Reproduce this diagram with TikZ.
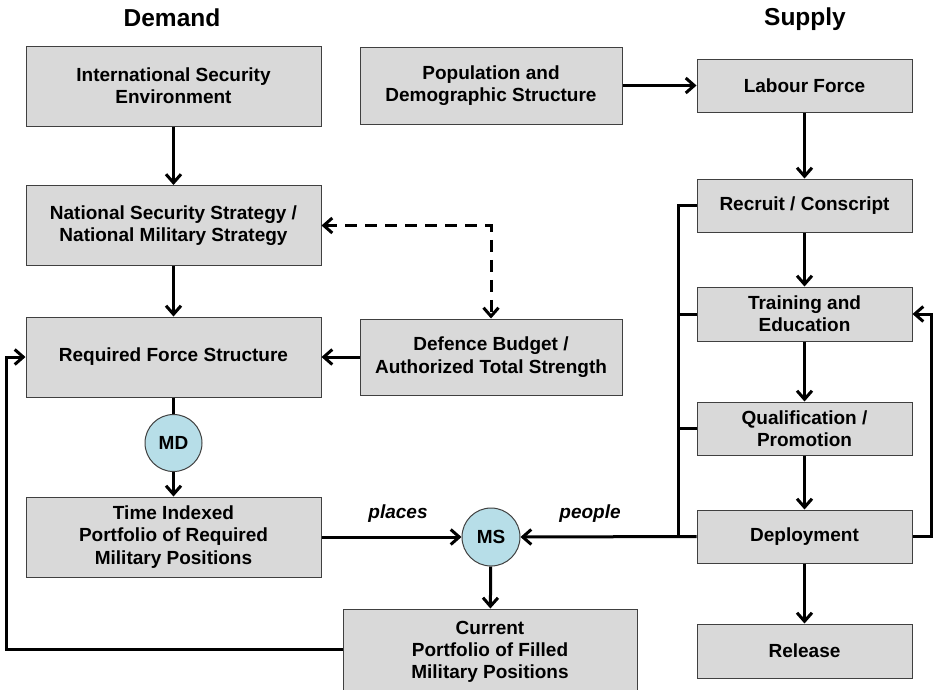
\documentclass[tikz,border=0pt]{standalone}
\usepackage{fontspec}
\setmainfont{Liberation Sans}
\usetikzlibrary{arrows.meta,calc}
\definecolor{boxfill}{HTML}{D9D9D9}
\definecolor{circfill}{HTML}{B7DEE8}
\definecolor{boxline}{HTML}{404040}
\begin{document}
\begin{tikzpicture}[x=1pt,y=-1pt,
  every node/.style={font=\fontsize{19pt}{22.3pt}\selectfont\bfseries},
  box/.style={draw=boxline,line width=1pt,fill=boxfill,align=center,inner sep=0pt,
    minimum width=#1,anchor=center},
  box/.default=215pt,
  circ/.style={circle,draw=boxline,line width=1pt,fill=circfill,minimum size=57pt,inner sep=0pt},
  conn/.style={line width=3pt,-{Straight Barb[length=8.5pt,width=15pt]}},
  plain/.style={line width=3pt},
  dashconn/.style={line width=3pt,dash pattern=on 12pt off 8pt,
    {Straight Barb[length=8.5pt,width=15pt]}-{Straight Barb[length=8.5pt,width=15pt]}},
  title/.style={font=\fontsize{24.5pt}{28pt}\selectfont\bfseries},
  lbl/.style={font=\fontsize{19pt}{22.3pt}\selectfont\bfseries\itshape}
]
\useasboundingbox (0,0) rectangle (933,689);
\clip (0,0) rectangle (933,689);
\fill[white] (0,0) rectangle (933,689);

% titles
\node[title] (tdem) at (172,18) {Demand};
\node[title] (tsup) at (805,19) {Supply};

% demand column
\node[box=295pt,minimum height=80pt] (ise) at (173.5,86) {International Security\\Environment};
\node[box=295pt,minimum height=80pt] (nss) at (173.5,225.5) {National Security Strategy /\\National Military Strategy};
\node[box=295pt,minimum height=80pt] (rfs) at (173.5,357) {Required Force Structure};
\node[circ] (md) at (173.5,443) {MD};
\node[box=295pt,minimum height=80pt] (tip) at (173.5,537) {Time Indexed\\Portfolio of Required\\Military Positions};

% middle column
\node[box=262pt,minimum height=77pt] (pop) at (491,85.5) {Population and\\Demographic Structure};
\node[box=262pt,minimum height=76pt] (def) at (491,357) {Defence Budget /\\Authorized Total Strength};
\node[circ,minimum size=58pt] (ms) at (491,537) {MS};
\node[box=294pt,minimum height=86pt] (cur) at (490,652) {Current\\Portfolio of Filled\\ Military Positions};
\coordinate (curjoin) at (343,649.5);

% supply column
\node[box,minimum height=53pt] (lab) at (804.5,85.5) {Labour Force};
\node[box,minimum height=53pt] (rec) at (804.5,205.5) {Recruit / Conscript};
\node[box,minimum height=54pt] (tra) at (804.5,314) {Training and\\Education};
\node[box,minimum height=53pt] (qua) at (804.5,428.5) {Qualification /\\Promotion};
\node[box,minimum height=53pt] (dep) at (804.5,536.5) {Deployment};
\node[box,minimum height=54pt] (rel) at (804.5,651) {Release};

% labels
\node[lbl] (lplaces) at (398,514) {places};
\node[lbl] (lpeople) at (590,514) {people};

% helper coordinates
\coordinate (bus) at (678.5,0);
\coordinate (rightx) at (931,0);
\coordinate (leftx) at (6,0);

% demand connectors
\draw[conn] (ise) -- (nss);
\draw[conn] (nss) -- (rfs);
\draw[plain] (rfs) -- (md);
\draw[conn] (md) -- (tip);
\draw[conn] (def) -- (rfs);
\draw[dashconn] (nss.east) -| (def.north);
\draw[conn] (tip.east) -- (ms.west);
\draw[conn] (ms) -- (cur);
\draw[conn] (curjoin) -- (curjoin -| leftx) |- (rfs.west);

% supply connectors
\draw[conn] (pop) -- (lab);
\draw[conn] (lab) -- (rec);
\draw[conn] (rec) -- (tra);
\draw[conn] (tra) -- (qua);
\draw[conn] (qua) -- (dep);
\draw[conn] (dep) -- (rel);
\draw[plain] (rec.west) -- (rec.west -| bus) -- (dep.west -| bus);
\draw[plain] (tra.west) -- (tra.west -| bus);
\draw[plain] (qua.west) -- (qua.west -| bus);
\draw[conn] (dep.west) -- (ms.east);
\draw[conn] (dep.east) -- (dep.east -| rightx) |- (tra.east);
\end{tikzpicture}
\end{document}
